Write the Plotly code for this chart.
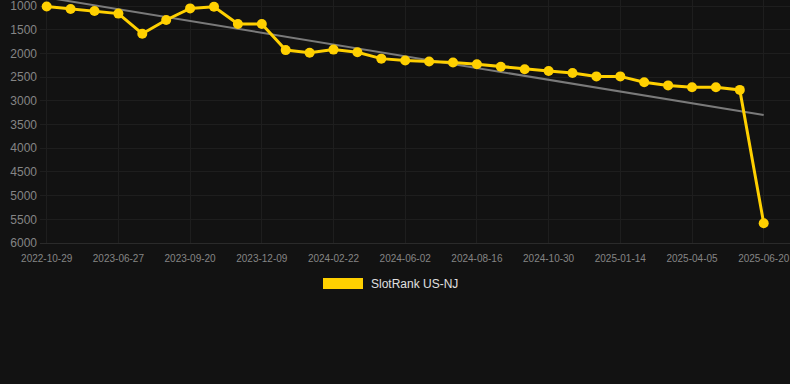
import plotly.graph_objects as go

dates = [
    "2022-10-29", "2022-12-15", "2023-03-10", "2023-06-27", "2023-07-25", "2023-08-22",
    "2023-09-20", "2023-10-17", "2023-11-13", "2023-12-09", "2024-01-03", "2024-01-28",
    "2024-02-22", "2024-03-28", "2024-05-01", "2024-06-02", "2024-06-27", "2024-07-22",
    "2024-08-16", "2024-09-10", "2024-10-05", "2024-10-30", "2024-11-24", "2024-12-19",
    "2025-01-14", "2025-02-10", "2025-03-09", "2025-04-05", "2025-04-30", "2025-05-25",
    "2025-06-20",
]
ranks = [
    1010, 1063, 1105, 1160, 1585, 1295, 1050, 1015, 1380, 1380, 1930, 1985,
    1920, 1975, 2110, 2150, 2170, 2190, 2230, 2280, 2335, 2370, 2415, 2485,
    2485, 2610, 2675, 2715, 2715, 2770, 5585,
]
tick_labels = ["2022-10-29", "2023-06-27", "2023-09-20", "2023-12-09", "2024-02-22",
               "2024-06-02", "2024-08-16", "2024-10-30", "2025-01-14", "2025-04-05",
               "2025-06-20"]
y_ticks = [1000, 1500, 2000, 2500, 3000, 3500, 4000, 4500, 5000, 5500, 6000]
trend_x = [dates[0], dates[-1]]
trend_y = [820, 3300]
series_name = "SlotRank US-NJ"

BG = "#121212"
GOLD = "#FFD000"
GRID = "#1e1e1e"
FONT = "Arial, Liberation Sans, sans-serif"

fig = go.Figure()
fig.add_trace(go.Scatter(
    x=trend_x, y=trend_y, mode="lines",
    line=dict(color="#7a7a7a", width=2), showlegend=False, hoverinfo="skip",
))
fig.add_trace(go.Scatter(
    x=dates, y=ranks, mode="lines+markers", name=series_name,
    line=dict(color=GOLD, width=3),
    marker=dict(color=GOLD, size=10),
    showlegend=False, cliponaxis=False,
))

fig.update_layout(
    width=790, height=384,
    margin=dict(l=40, r=0, t=0, b=141),
    paper_bgcolor=BG, plot_bgcolor=BG,
    font=dict(family=FONT, color="#888888"),
    xaxis=dict(
        type="category", categoryorder="array", categoryarray=dates,
        range=[-0.28, 31.1],
        tickmode="array", tickvals=tick_labels, ticktext=tick_labels,
        tickfont=dict(size=10, color="#858585"),
        showgrid=True, gridcolor=GRID, gridwidth=1,
        showline=True, linecolor="#2a2a2a", linewidth=1,
        ticks="", zeroline=False, ticklabelstandoff=6,
        ticklabeloverflow="allow",
    ),
    yaxis=dict(
        range=[6000, 873], tickvals=y_ticks,
        tickfont=dict(size=12, color="#858585"),
        showgrid=True, gridcolor=GRID, gridwidth=1,
        ticks="", zeroline=False, ticklabelstandoff=2,
        ticklabeloverflow="allow",
    ),
    shapes=[dict(
        type="rect", xref="paper", yref="paper",
        x0=(323 - 40) / 750, x1=(363 - 40) / 750,
        y0=(243 - 289) / 243, y1=(243 - 278) / 243,
        fillcolor=GOLD, line=dict(width=0),
    )],
    annotations=[dict(
        text=series_name, xref="paper", yref="paper",
        x=(369 - 40) / 750, y=(243 - 284) / 243,
        xanchor="left", yanchor="middle", showarrow=False,
        font=dict(size=12, color="#e0e0e0", family=FONT),
    )],
)

fig.write_html(
    "out.html",
    config={"displayModeBar": False},
    post_script="document.body.style.margin='0';document.body.style.background='#121212';",
)
